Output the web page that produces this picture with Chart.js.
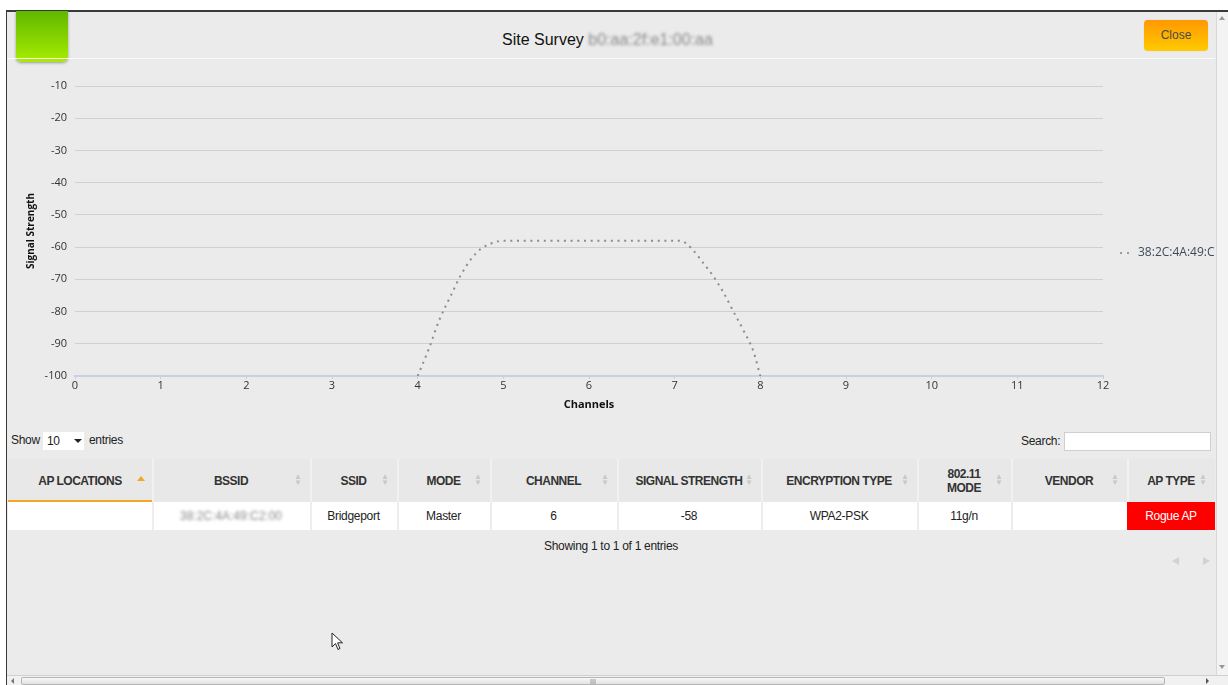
<!DOCTYPE html>
<html><head><meta charset="utf-8">
<script src="https://cdn.jsdelivr.net/npm/chart.js@4.4.1/dist/chart.umd.min.js"></script>
<style>
html,body{margin:0;padding:0;width:1228px;height:685px;overflow:hidden;background:#fff;font-family:"Liberation Sans",Arial,sans-serif;}
.abs{position:absolute;}
#win{left:6px;top:10px;width:1222px;height:675px;background:#ebebeb;border-left:1px solid #3a3a3a;border-top:2px solid #3a3a3a;box-sizing:border-box;}
#logo{left:16px;top:11px;width:52px;height:51px;border-radius:0 0 5px 5px;background:linear-gradient(#5fb800,#a8ec00);box-shadow:0 1px 3px rgba(0,0,0,.35);}
#sep{left:7px;top:58px;width:1208px;height:1px;background:#fafafa;}
#title{left:0;top:31px;width:1228px;text-align:center;font-size:16px;color:#111;}
#title .t{position:absolute;left:502px;top:0;white-space:nowrap;}
.blur{color:#8a8a8a;filter:blur(1.6px);letter-spacing:0px;}
#close{left:1144px;top:20px;width:64px;height:31px;border-radius:4px;background:linear-gradient(#ff9800,#ffcb00);font-size:12px;color:#4a4a4a;text-align:center;line-height:30px;box-shadow:0 0 1px rgba(0,0,0,.2);}
#vscroll{left:1216px;top:12px;width:12px;height:663px;background:#f3f3f3;border-left:1px solid #d8d8d8;box-sizing:border-box;}
#hscroll{left:7px;top:675px;width:1221px;height:10px;background:#f1f1f1;border-top:1px solid #d0d0d0;box-sizing:border-box;}
#thumb{left:21px;top:677px;width:1144px;height:8px;border:1px solid #b5b5b5;border-radius:2px;background:linear-gradient(#f8f8f8,#e2e2e2);box-sizing:border-box;}
.tri{width:0;height:0;}
#chartbox{left:7px;top:60px;width:1208px;height:370px;overflow:hidden;}
.lbl{font-size:12px;color:#222;letter-spacing:-0.3px;}
#sel{left:43px;top:432px;width:41px;height:18px;background:#fff;font-size:12px;line-height:18px;box-sizing:border-box;padding-left:4px;}
#search{left:1064px;top:432px;width:147px;height:19px;background:#fff;border:1px solid #cfcfcf;box-sizing:border-box;}
#tbl{position:absolute;left:8px;top:459px;width:1207px;height:71px;}
.cell{position:absolute;box-sizing:border-box;text-align:center;display:flex;align-items:center;justify-content:center;}
.th{top:0;height:43px;background:#e8e8e8;font-size:12px;font-weight:bold;color:#333;letter-spacing:-0.5px;line-height:14px;box-shadow:inset 2px 0 0 #f1f1f1;}
.th.first{box-shadow:inset 0 -2px 0 #f5a623;}
.td{top:43px;height:28px;background:#fff;font-size:12px;color:#222;letter-spacing:-0.3px;box-shadow:inset 2px 0 0 #ededed;}
.td.first{box-shadow:none;}
.sort{position:absolute;right:8px;top:15px;font-size:8px;color:#c8c8c8;line-height:6px;letter-spacing:0;font-weight:normal;}
.sortA{position:absolute;right:7px;top:17px;width:0;height:0;border-left:4px solid transparent;border-right:4px solid transparent;border-bottom:5px solid #f5a623;}
#info{left:0;top:539px;width:1222px;text-align:center;}
</style></head>
<body>
<div id="win" class="abs"></div>
<div id="logo" class="abs"></div>
<div id="sep" class="abs"></div>
<div id="title" class="abs"><span class="t">Site Survey <span class="blur">b0:aa:2f:e1:00:aa</span></span></div>
<div id="close" class="abs">Close</div>
<div id="vscroll" class="abs"></div>
<div class="abs tri" style="left:1219px;top:16px;border-left:3px solid transparent;border-right:3px solid transparent;border-bottom:4px solid #999;"></div>
<div class="abs tri" style="left:1219px;top:665px;border-left:3px solid transparent;border-right:3px solid transparent;border-top:4px solid #999;"></div>
<div id="hscroll" class="abs"></div>
<div class="abs tri" style="left:11px;top:678px;border-top:3px solid transparent;border-bottom:3px solid transparent;border-right:3px solid #777;"></div>
<div id="thumb" class="abs"></div>
<div class="abs" style="left:590px;top:678px;font-size:7px;color:#777;letter-spacing:0;line-height:7px;">III</div>
<div class="abs tri" style="left:1206px;top:678px;border-top:3px solid transparent;border-bottom:3px solid transparent;border-left:3px solid #555;"></div>

<div id="chartbox" class="abs"><canvas id="c" width="1300" height="360"></canvas></div>

<div class="abs lbl" style="left:11px;top:433px;">Show</div>
<div id="sel" class="abs lbl">10</div>
<div class="abs tri" style="left:74px;top:439px;border-left:4px solid transparent;border-right:4px solid transparent;border-top:4px solid #222;"></div>
<div class="abs lbl" style="left:89px;top:433px;">entries</div>
<div class="abs lbl" style="left:1021px;top:434px;">Search:</div>
<div id="search" class="abs"></div>

<div id="tbl"></div>

<div id="info" class="abs lbl">Showing 1 to 1 of 1 entries</div>
<div class="abs tri" style="left:1172px;top:557px;border-top:4px solid transparent;border-bottom:4px solid transparent;border-right:7px solid #d2d2d2;"></div>
<div class="abs tri" style="left:1203px;top:557px;border-top:4px solid transparent;border-bottom:4px solid transparent;border-left:7px solid #d2d2d2;"></div>

<svg class="abs" style="left:331px;top:632px" width="14" height="20" viewBox="0 0 14 20">
<path d="M1 1 L1 15 L4.5 11.5 L7 17.5 L9 16.5 L6.6 10.8 L11.5 10.8 Z" fill="#fff" stroke="#222" stroke-width="1"/>
</svg>

<script>
// ---- chart data ----
const channelTicks = [0,1,2,3,4,5,6,7,8,9,10,11,12];
const signalTicks = [-100,-90,-80,-70,-60,-50,-40,-30,-20,-10];
const seriesLabel = '38:2C:4A:49:C2';
const curveChannels = [4, 4.14, 4.25, 4.39, 4.5, 4.63, 4.74, 4.9, 5, 6, 7, 7.09, 7.22, 7.33, 7.45, 7.57, 7.68, 7.8, 7.92, 8];
const curveSignal = [-100, -90.9, -82.8, -74.9, -68.9, -63.5, -60.5, -58.5, -58, -58, -58, -58.2, -61.1, -64.8, -69, -74.1, -79.7, -85.7, -92.4, -100];

// ---- table data ----
const tableHeaders = ['AP LOCATIONS','BSSID','SSID','MODE','CHANNEL','SIGNAL STRENGTH','ENCRYPTION TYPE','802.11<br>MODE','VENDOR','AP TYPE'];
const tableRow = ['', '38:2C:4A:49:C2:00', 'Bridgeport', 'Master', '6', '-58', 'WPA2-PSK', '11g/n', '', 'Rogue AP'];
const colWidths = [144,158,87,93,127,144,156,94,116,88];

const tbl = document.getElementById('tbl');
let cx = 0;
tableHeaders.forEach((h,i)=>{
  const th = document.createElement('div');
  th.className = 'cell th' + (i===0?' first':'');
  th.style.left = cx+'px'; th.style.width = colWidths[i]+'px';
  th.innerHTML = '<span>'+h+'</span>' + (i===0 ? '<span class="sortA"></span>' : '<span class="sort">▲<br>▼</span>');
  tbl.appendChild(th);
  const td = document.createElement('div');
  td.className = 'cell td' + (i===0?' first':'');
  td.style.left = cx+'px'; td.style.width = colWidths[i]+'px';
  const v = tableRow[i];
  if (i===1) td.innerHTML = '<span class="blur">'+v+'</span>';
  else td.textContent = v;
  if (i===9) { td.style.background='#ff0000'; td.style.color='#fff'; td.style.boxShadow='none'; }
  tbl.appendChild(td);
  cx += colWidths[i];
});

const legendPlugin = {
  id:'sideLegend',
  afterDraw(chart){
    const ctx = chart.ctx;
    const y = 193;
    ctx.save();
    ctx.fillStyle = '#9a9a9a';
    ctx.fillRect(1113, y-1, 2, 2);
    ctx.fillRect(1120, y-1, 2, 2);
    ctx.fillStyle = '#3c4a5c';
    ctx.font = '12px "Open Sans"';
    ctx.textBaseline = 'middle';
    ctx.fillText(chart.data.datasets[0].label, 1131, y);
    ctx.restore();
  }
};

new Chart(document.getElementById('c'), {
  type:'line',
  data:{
    datasets:[{
      label: seriesLabel,
      data: curveChannels.map((x,i)=>({x:x, y:curveSignal[i]})),
      borderColor:'#8c8c8c',
      borderWidth:2,
      borderDash:[2,4.7],
      pointRadius:0,
      fill:false,
      cubicInterpolationMode:'monotone'
    }]
  },
  options:{
    responsive:false,
    animation:false,
    devicePixelRatio:1,
    layout:{padding:{left:0, top:26, right:204, bottom:4}},
    plugins:{legend:{display:false}, tooltip:{enabled:false}},
    scales:{
      x:{
        type:'linear',
        min: channelTicks[0], max: channelTicks[channelTicks.length-1],
        afterBuildTicks(s){ s.ticks = channelTicks.map(v=>({value:v})); },
        afterFit(s){ s.height = 40; },
        grid:{display:true, drawOnChartArea:false, drawTicks:true, tickLength:3, color:'#c4d0de'},
        border:{display:true, color:'#c6d2e0', width:2},
        ticks:{font:{family:'Open Sans', size:11}, color:'#333', padding:0, maxRotation:0},
        title:{display:true, text:'Channels', font:{family:'Open Sans', size:11, weight:'bold'}, color:'#111', padding:{top:0,bottom:5}}
      },
      y:{
        min: signalTicks[0], max: signalTicks[signalTicks.length-1],
        afterBuildTicks(s){ s.ticks = signalTicks.map(v=>({value:v})); },
        afterFit(s){ s.width = 68; },
        grid:{color:'#d0d0d0', lineWidth:1, drawTicks:false},
        border:{display:false},
        ticks:{font:{family:'Open Sans', size:11}, color:'#333', padding:8},
        title:{display:true, text:'Signal Strength', font:{family:'Open Sans', size:10, weight:'bold'}, color:'#111', padding:{top:18,bottom:0}}
      }
    }
  },
  plugins:[legendPlugin]
});
</script>
</body></html>
